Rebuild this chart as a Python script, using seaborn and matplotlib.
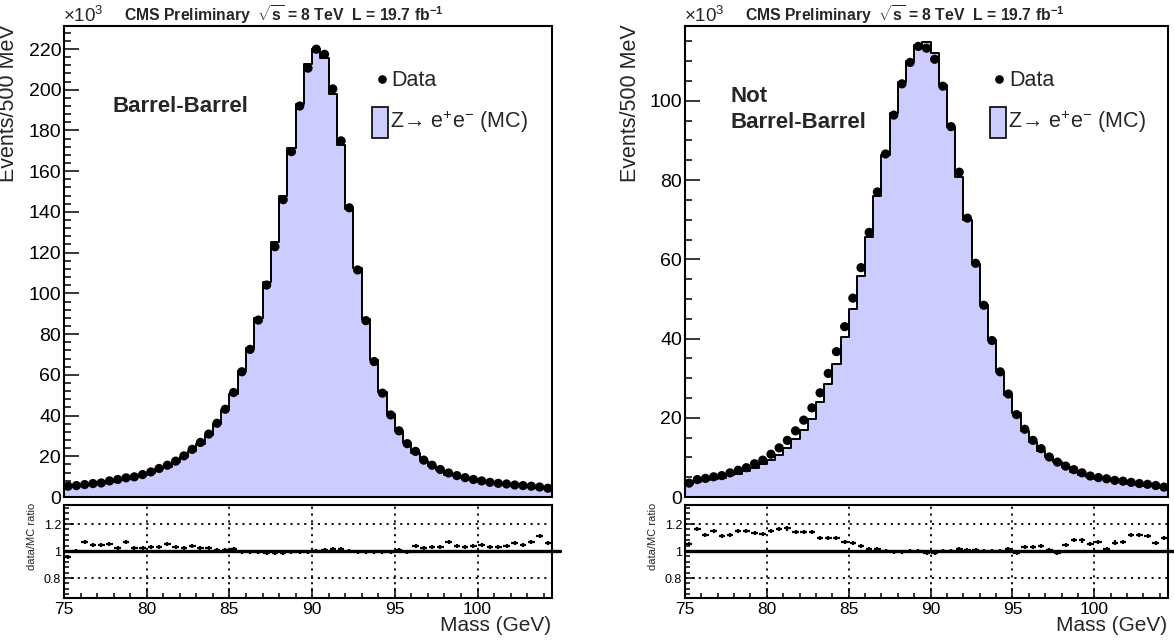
import numpy as np
import pandas as pd
import matplotlib
matplotlib.use("Agg")
import matplotlib.pyplot as plt
import seaborn as sns
from matplotlib.ticker import MultipleLocator, FixedLocator, FixedFormatter
from matplotlib.patches import Rectangle
from matplotlib.lines import Line2D

# ---------------- data (thousands of events per 0.5 GeV bin) ----------------
mass_lo, mass_hi, bin_w = 75.0, 104.5, 0.5

bb_data = [5.3, 5.6, 6.1, 6.6, 6.9, 7.9, 8.6, 9.4, 9.9, 11.0,
           12.3, 14.0, 15.6, 17.6, 20.2, 23.4, 26.8, 30.9, 36.2, 43.1,
           51.3, 61.5, 72.5, 86.9, 104.1, 122.9, 146.0, 169.6, 192.0, 210.6,
           219.9, 217.4, 200.4, 174.9, 142.0, 111.5, 86.6, 66.5, 51.0, 40.3,
           32.5, 26.2, 22.4, 18.1, 15.6, 13.5, 11.8, 10.5, 9.5, 8.6,
           7.9, 7.2, 6.7, 6.4, 5.9, 5.6, 5.3, 4.9, 4.3]
bb_mc = [5.54, 5.6, 5.70, 6.32, 6.60, 7.52, 8.43, 8.79, 9.71, 10.78,
         11.94, 13.59, 14.86, 17.09, 19.71, 22.5, 26.15, 30.29, 35.91, 42.76,
         50.69, 62.12, 73.23, 87.78, 105.36, 125.15, 147.77, 171.31, 192.96, 212.73,
         219.9, 215.67, 198.02, 172.83, 141.57, 112.63, 87.47, 67.17, 51.52, 40.71,
         32.24, 26.33, 21.54, 17.66, 15.15, 13.11, 11.03, 10.10, 9.22, 8.27,
         7.56, 6.99, 6.50, 6.15, 5.57, 5.36, 4.95, 4.41, 4.06]
bb_ratio = [0.957, 1.0, 1.07, 1.045, 1.045, 1.05, 1.02, 1.07, 1.02, 1.02,
            1.03, 1.03, 1.05, 1.03, 1.025, 1.04, 1.025, 1.02, 1.008, 1.008,
            1.012, 0.99, 0.99, 0.99, 0.988, 0.982, 0.988, 0.99, 0.995, 0.99,
            1.0, 1.008, 1.012, 1.012, 1.003, 0.99, 0.99, 0.99, 0.99, 0.99,
            1.008, 0.995, 1.04, 1.025, 1.03, 1.03, 1.07, 1.04, 1.03, 1.04,
            1.045, 1.03, 1.03, 1.04, 1.06, 1.045, 1.07, 1.11, 1.06]

nbb_data = [3.5, 4.4, 4.7, 5.1, 5.4, 6.1, 6.75, 7.4, 8.4, 9.3,
            10.8, 12.4, 14.3, 16.7, 19.4, 22.5, 26.3, 31.2, 36.7, 43.0,
            50.2, 57.9, 66.8, 77.0, 86.6, 96.4, 104.3, 109.7, 113.75, 113.3,
            110.5, 103.7, 93.5, 82.0, 70.4, 59.0, 48.4, 39.5, 31.6, 26.0,
            20.8, 17.1, 14.3, 12.2, 10.1, 8.8, 7.8, 6.9, 6.1, 5.3,
            4.9, 4.6, 4.2, 4.0, 3.7, 3.4, 3.2, 2.9, 2.5]
nbb_mc = [3.32, 3.79, 4.20, 4.45, 4.85, 5.45, 5.87, 6.45, 7.41, 8.25,
          9.39, 10.69, 12.25, 14.65, 16.96, 19.74, 23.9, 28.4, 33.5, 40.3,
          47.5, 55.9, 65.6, 76.0, 86.3, 96.9, 104.8, 110.0, 114.1, 114.8,
          112.0, 104.0, 93.5, 80.9, 70.0, 58.7, 48.5, 39.6, 31.6, 25.7,
          21.1, 16.6, 13.9, 11.7, 10.0, 8.9, 7.46, 6.37, 5.66, 5.05,
          4.59, 4.54, 3.95, 3.74, 3.30, 3.05, 2.88, 2.74, 2.29]
nbb_ratio = [1.053, 1.16, 1.12, 1.147, 1.114, 1.12, 1.15, 1.147, 1.134, 1.127,
             1.15, 1.16, 1.167, 1.14, 1.144, 1.14, 1.10, 1.10, 1.094, 1.068,
             1.056, 1.035, 1.018, 1.013, 1.003, 0.995, 0.995, 0.997, 0.997, 0.987,
             0.987, 0.997, 1.0, 1.013, 1.005, 1.005, 0.997, 0.997, 1.0, 1.013,
             0.987, 1.03, 1.028, 1.04, 1.008, 0.987, 1.046, 1.084, 1.078, 1.05,
             1.068, 1.013, 1.063, 1.07, 1.12, 1.116, 1.11, 1.058, 1.094]

region_lines = [["Barrel-Barrel"], ["Not", "Barrel-Barrel"]]
title_text = r"CMS Preliminary  $\mathbf{\sqrt{s}}$ = 8 TeV  L = 19.7 fb$^{\mathbf{-1}}$"
ylabel_main = "Events/500 MeV"
ylabel_ratio = "data/MC ratio"
xlabel = "Mass (GeV)"
legend_data = "Data"
legend_mc = "Z\u2192 e$^{+}$e$^{-}$ (MC)"

# ---------------- style ----------------
sns.set_style("ticks")
plt.rcParams["font.family"] = ["Liberation Sans", "DejaVu Sans"]
plt.rcParams["mathtext.fontset"] = "custom"
plt.rcParams["mathtext.rm"] = "Liberation Sans"
plt.rcParams["mathtext.it"] = "Liberation Sans:italic"
plt.rcParams["mathtext.bf"] = "Liberation Sans:bold"

MC_FILL = "#ccccff"
W, H = 1174, 642
fig = plt.figure(figsize=(W / 100, H / 100), dpi=100)


def fx(x):
    return x / W


def fy(y):
    return 1 - y / H


edges = [float(e) for e in np.arange(mass_lo, mass_hi + bin_w / 2, bin_w)]
centers = [(a + b) / 2 for a, b in zip(edges[:-1], edges[1:])]

panels = [
    dict(x0=64, x1=552, ymax=231.3, minor=4, data=bb_data, mc=bb_mc,
         ratio=bb_ratio, lines=region_lines[0], txt_x=113, txt_y=[107],
         leg_dot=382, leg_txt=391, leg_box=372),
    dict(x0=685, x1=1168, ymax=118.9, minor=5, data=nbb_data, mc=nbb_mc,
         ratio=nbb_ratio, lines=region_lines[1], txt_x=731, txt_y=[97, 122],
         leg_dot=999, leg_txt=1009, leg_box=990),
]

TOP, MAIN_BOT, R_TOP, R_BOT = 26, 497, 505, 598

for p in panels:
    x0, x1 = p["x0"], p["x1"]
    df = pd.DataFrame({"mass": centers, "data": p["data"], "mc": p["mc"],
                       "ratio": p["ratio"]})

    # ---------- main pad ----------
    ax = fig.add_axes([fx(x0), fy(MAIN_BOT), fx(x1) - fx(x0), (MAIN_BOT - TOP) / H])
    sns.histplot(data=df, x="mass", weights="mc", bins=edges, element="step",
                 fill=True, color=MC_FILL, alpha=1.0, edgecolor="black",
                 linewidth=1.4, ax=ax, zorder=2)
    sns.scatterplot(data=df, x="mass", y="data", color="black", s=44,
                    edgecolor="none", ax=ax, zorder=3)
    ax.set_xlim(mass_lo, mass_hi)
    ax.set_ylim(0, p["ymax"])
    ax.set_xlabel("")
    ax.set_ylabel("")
    ax.xaxis.set_major_locator(MultipleLocator(5))
    ax.xaxis.set_minor_locator(MultipleLocator(1))
    ax.yaxis.set_major_locator(MultipleLocator(20))
    ax.yaxis.set_minor_locator(MultipleLocator(p["minor"]))
    ax.tick_params(which="both", direction="in", top=False, right=False,
                   labelbottom=False, width=1.1, colors="black")
    ax.tick_params(which="major", length=10.5)
    ax.tick_params(which="minor", length=5.2)
    ax.tick_params(axis="y", which="major", labelsize=14, pad=2)
    for s in ax.spines.values():
        s.set_linewidth(1.5)
        s.set_color("black")

    # ---------- ratio pad ----------
    rx = fig.add_axes([fx(x0), fy(R_BOT), fx(x1) - fx(x0), (R_BOT - R_TOP) / H])
    rx.errorbar(df["mass"], df["ratio"], xerr=0.2, yerr=0.015, fmt="none",
                ecolor="black", elinewidth=1.6, capsize=0, zorder=3)
    rx.set_xlim(mass_lo, mass_hi)
    rx.set_ylim(0.652, 1.341)
    rx.xaxis.set_major_locator(MultipleLocator(5))
    rx.xaxis.set_minor_locator(MultipleLocator(1))
    rx.yaxis.set_major_locator(FixedLocator([0.8, 1.0, 1.2]))
    rx.yaxis.set_major_formatter(FixedFormatter(["0.8", "1", "1.2"]))
    rx.yaxis.set_minor_locator(MultipleLocator(0.04))
    rx.tick_params(which="both", direction="in", top=False, right=False,
                   width=1.1, colors="black")
    rx.tick_params(axis="x", which="major", length=7, labelsize=12.5, pad=3)
    rx.tick_params(axis="x", which="minor", length=3.5)
    rx.tick_params(axis="y", which="major", length=7, labelsize=9, pad=2)
    rx.tick_params(axis="y", which="minor", length=3.6)
    for s in rx.spines.values():
        s.set_linewidth(1.5)
        s.set_color("black")
    for gx in [80, 85, 90, 95, 100]:
        rx.axvline(gx, color="black", lw=1.3, ls=(0, (1.2, 2.6)), zorder=1)
    for gy in [0.8, 1.2]:
        rx.axhline(gy, color="black", lw=1.3, ls=(0, (1.2, 2.6)), zorder=1)
    rx.add_line(Line2D([0, 1.016], [1.0, 1.0], transform=rx.get_yaxis_transform(),
                       color="black", lw=2.4, clip_on=False, zorder=2))

    # ---------- texts ----------
    fig.text(fx(x0 - 55), fy(TOP - 2), ylabel_main, rotation=90, ha="center",
             va="top", fontsize=15.5)
    fig.text(fx(x0 - 32), fy(R_TOP - 2), ylabel_ratio, rotation=90, ha="center",
             va="top", fontsize=8)
    fig.text(fx(x1 - 1), fy(631), xlabel, ha="right", va="baseline", fontsize=15)
    fig.text(fx(x0 - 1), fy(22), r"$\times$10$^{3}$", ha="left", va="baseline",
             fontsize=13.5)
    fig.text(fx(x0 + 60), fy(15), title_text, ha="left", va="center",
             fontsize=11.3, fontweight="bold")
    for line, ty in zip(p["lines"], p["txt_y"]):
        fig.text(fx(p["txt_x"]), fy(ty), line, ha="left", va="center",
                 fontsize=16, fontweight="bold")

    # legend
    fig.add_artist(Line2D([fx(p["leg_dot"])], [fy(79)], marker="o",
                          markersize=5.2, color="black", linestyle="none",
                          transform=fig.transFigure))
    fig.text(fx(p["leg_txt"]), fy(80), legend_data, ha="left", va="center",
             fontsize=15.5)
    fig.add_artist(Rectangle((fx(p["leg_box"]), fy(138)), 16 / W, 31 / H,
                             facecolor=MC_FILL, edgecolor="black", lw=1.2,
                             transform=fig.transFigure))
    fig.text(fx(p["leg_box"] + 18), fy(122), legend_mc, ha="left", va="center",
             fontsize=15.5)

fig.savefig("out.png", dpi=100)
